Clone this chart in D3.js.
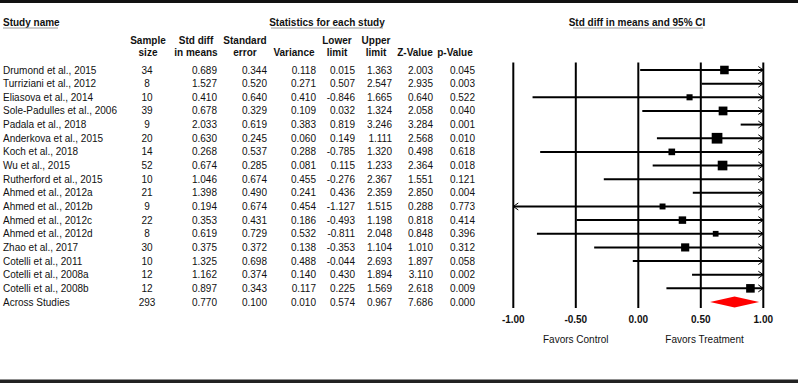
<!DOCTYPE html>
<html>
<head>
<meta charset="utf-8">
<script src="https://cdn.jsdelivr.net/npm/d3@7"></script>
<style>
  body { margin: 0; background: #fff; }
  svg text { font-family: "Liberation Sans", Arial, sans-serif; font-size: 10px; fill: #111; }
  .bold { font-weight: bold; }
</style>
</head>
<body>
<svg id="chart" width="800" height="384"></svg>
<script>
// data
const studies = ["Drumond et al., 2015", "Turriziani et al., 2012", "Eliasova et al., 2014",
  "Sole-Padulles et al., 2006", "Padala et al., 2018", "Anderkova et al., 2015", "Koch et al., 2018",
  "Wu et al., 2015", "Rutherford et al., 2015", "Ahmed et al., 2012a", "Ahmed et al., 2012b",
  "Ahmed et al., 2012c", "Ahmed et al., 2012d", "Zhao et al., 2017", "Cotelli et al., 2011",
  "Cotelli et al., 2008a", "Cotelli et al., 2008b"]
const sampleSize = [34, 8, 10, 39, 9, 20, 14, 52, 10, 21, 9, 22, 8, 30, 10, 12, 12]
const stdDiff = [0.689, 1.527, 0.410, 0.678, 2.033, 0.630, 0.268, 0.674, 1.046, 1.398, 0.194, 0.353, 0.619, 0.375, 1.325, 1.162, 0.897]
const stdErr = [0.344, 0.520, 0.640, 0.329, 0.619, 0.245, 0.537, 0.285, 0.674, 0.490, 0.674, 0.431, 0.729, 0.372, 0.698, 0.374, 0.343]
const variance = [0.118, 0.271, 0.410, 0.109, 0.383, 0.060, 0.288, 0.081, 0.455, 0.241, 0.454, 0.186, 0.532, 0.138, 0.488, 0.140, 0.117]
const lowerLimit = [0.015, 0.507, -0.846, 0.032, 0.819, 0.149, -0.785, 0.115, -0.276, 0.436, -1.127, -0.493, -0.811, -0.353, -0.044, 0.430, 0.225]
const upperLimit = [1.363, 2.547, 1.665, 1.324, 3.246, 1.111, 1.320, 1.233, 2.367, 2.359, 1.515, 1.198, 2.048, 1.104, 2.693, 1.894, 1.569]
const zValue = [2.003, 2.935, 0.640, 2.058, 3.284, 2.568, 0.498, 2.364, 1.551, 2.850, 0.288, 0.818, 0.848, 1.010, 1.897, 3.110, 2.618]
const pValue = [0.045, 0.003, 0.522, 0.040, 0.001, 0.010, 0.618, 0.018, 0.121, 0.004, 0.773, 0.414, 0.396, 0.312, 0.058, 0.002, 0.009]

const summary = { name: "Across Studies", n: 293, est: 0.770, se: 0.100, v: 0.010, lo: 0.574, hi: 0.967, z: 7.686, p: 0.000 }

const axisTicks = [-1, -0.5, 0, 0.5, 1]

const rows = studies.map((s, i) => ({
  name: s, n: sampleSize[i], est: stdDiff[i], se: stdErr[i], v: variance[i],
  lo: lowerLimit[i], hi: upperLimit[i], z: zValue[i], p: pValue[i]
}))
const allRows = rows.concat([summary])

const svg = d3.select("#chart")
// plain hyphen for negatives, like the original table
const locale = d3.formatLocale({ decimal: ".", thousands: ",", grouping: [3], currency: ["", ""], minus: "-" })
const f3 = locale.format(".3f")
const f2 = locale.format(".2f")

// rules top & bottom
svg.append("rect").attr("x", 0).attr("y", 0).attr("width", 798).attr("height", 3).attr("fill", "#111")
svg.append("rect").attr("x", 0).attr("y", 379.5).attr("width", 798).attr("height", 3.5).attr("fill", "#222")

// scales
const y = d3.scalePoint().domain(d3.range(allRows.length)).range([70, 302])
const x = d3.scaleLinear().domain([-1, 1]).range([513.3, 763.3])

// headers
const hdr = svg.append("g")
function header(txt, cx, cy, anchor) {
  hdr.append("text").attr("class", "bold").attr("x", cx).attr("y", cy).attr("dy", "0.35em")
    .attr("text-anchor", anchor || "middle").text(txt)
}
header("Study name", 3, 22, "start")
header("Statistics for each study", 327, 22)
header("Std diff in means and 95% CI", 637, 22)
hdr.append("line").attr("x1", 3).attr("x2", 58).attr("y1", 28).attr("y2", 28).attr("stroke", "#999")
hdr.append("line").attr("x1", 271).attr("x2", 383).attr("y1", 28).attr("y2", 28).attr("stroke", "#999")
hdr.append("line").attr("x1", 573).attr("x2", 703).attr("y1", 28).attr("y2", 28).attr("stroke", "#999")

const cols = [
  { key: "n", right: null, center: 147, h: ["Sample", "size"], hc: 148, fmt: d => d },
  { key: "est", right: 217, h: ["Std diff", "in means"], hc: 196, fmt: f3 },
  { key: "se", right: 267, h: ["Standard", "error"], hc: 245, fmt: f3 },
  { key: "v", right: 316, h: ["", "Variance"], hc: 294, fmt: f3 },
  { key: "lo", right: 355, h: ["Lower", "limit"], hc: 337, fmt: f3 },
  { key: "hi", right: 392, h: ["Upper", "limit"], hc: 376, fmt: f3 },
  { key: "z", right: 433, h: ["", "Z-Value"], hc: 415, fmt: f3 },
  { key: "p", right: 475, h: ["", "p-Value"], hc: 455, fmt: f3 }
]
cols.forEach(c => {
  if (c.h[0]) header(c.h[0], c.hc, 40)
  header(c.h[1], c.hc, 52)
})

// table body
const body = svg.append("g")
const rowG = body.selectAll("g").data(allRows).enter().append("g")
  .attr("transform", (d, i) => `translate(0,${y(i)})`)
rowG.append("text").attr("x", 3).attr("dy", "0.35em").text(d => d.name)
cols.forEach(c => {
  rowG.append("text")
    .attr("x", c.right == null ? c.center : c.right)
    .attr("text-anchor", c.right == null ? "middle" : "end")
    .attr("dy", "0.35em")
    .text(d => c.fmt(d[c.key]))
})

// forest plot
const plot = svg.append("g")
plot.selectAll("line.grid").data(axisTicks).enter().append("line")
  .attr("class", "grid")
  .attr("x1", d => x(d)).attr("x2", d => x(d))
  .attr("y1", 62.5).attr("y2", 308)
  .attr("stroke", "#000").attr("stroke-width", 2)

plot.selectAll("text.tick").data(axisTicks).enter().append("text")
  .attr("class", "bold").attr("x", d => x(d)).attr("y", 319).attr("dy", "0.35em")
  .attr("text-anchor", "middle").text(f2)

plot.append("text").attr("x", x(-0.5)).attr("y", 339).attr("dy", "0.35em").attr("text-anchor", "middle").text("Favors Control")
plot.append("text").attr("x", x(0.53)).attr("y", 339).attr("dy", "0.35em").attr("text-anchor", "middle").text("Favors Treatment")

const clamp = v => Math.max(-1, Math.min(1, v))
const sizeScale = d3.scaleLinear().domain([0, d3.max(rows, d => Math.sqrt(1 / d.v))]).range([3.2, 10.7])

const ci = plot.selectAll("g.ci").data(rows).enter().append("g").attr("class", "ci")
ci.append("line")
  .attr("x1", d => x(clamp(d.lo))).attr("x2", d => x(clamp(d.hi)))
  .attr("y1", (d, i) => y(i)).attr("y2", (d, i) => y(i))
  .attr("stroke", "#000").attr("stroke-width", 2)

// arrows where the interval leaves the axis
ci.filter(d => d.hi > 1).append("path")
  .attr("d", d => `M${x(1) - 5},${y(rows.indexOf(d)) - 3.5}L${x(1)},${y(rows.indexOf(d))}L${x(1) - 5},${y(rows.indexOf(d)) + 3.5}`)
  .attr("fill", "none").attr("stroke", "#000").attr("stroke-width", 1)
ci.filter(d => d.lo < -1).append("path")
  .attr("d", d => `M${x(-1) + 5},${y(rows.indexOf(d)) - 3.5}L${x(-1)},${y(rows.indexOf(d))}L${x(-1) + 5},${y(rows.indexOf(d)) + 3.5}`)
  .attr("fill", "none").attr("stroke", "#000").attr("stroke-width", 1)

ci.filter(d => d.est >= -1 && d.est <= 1).append("rect")
  .attr("x", d => x(d.est) - sizeScale(Math.sqrt(1 / d.v)) / 2)
  .attr("y", d => y(rows.indexOf(d)) - sizeScale(Math.sqrt(1 / d.v)) / 2)
  .attr("width", d => sizeScale(Math.sqrt(1 / d.v)))
  .attr("height", d => sizeScale(Math.sqrt(1 / d.v)))
  .attr("fill", "#000")

// summary diamond
const sy = y(allRows.length - 1)
plot.append("path")
  .attr("d", `M${x(summary.lo)},${sy}L${x(summary.est)},${sy - 5.5}L${x(summary.hi)},${sy}L${x(summary.est)},${sy + 5.5}Z`)
  .attr("fill", "#ff0000")
</script>
</body>
</html>
